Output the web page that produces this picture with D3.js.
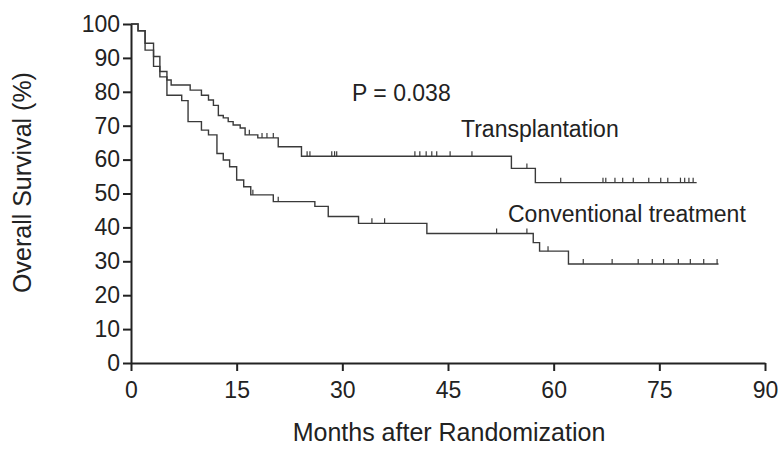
<!DOCTYPE html>
<html>
<head>
<meta charset="utf-8">
<script src="https://cdn.jsdelivr.net/npm/d3@7"></script>
<style>
  body { margin: 0; background: #fff; }
  text { font-family: "Liberation Sans", Arial, sans-serif; fill: #222; }
</style>
</head>
<body>
<div id="chart-area"></div>
<script>
// step points: [month, survival %] after each drop
var transplant = [[0,100],[1,98],[2,94.3],[3.2,87.5],[4.1,86],[5.1,83.5],[5.7,82],[8.4,80.5],[10,79],[11,77.6],[11.7,76],
  [12.4,73],[13.1,72.3],[13.8,71.2],[14.5,70.2],[15.5,69.3],[16.2,67.3],[18,66.4],[20.9,63.8],[24.2,61],[54,57.4],[57.4,53.2]];
var transplantEnd = 80.3;
var transplantCensor = [16.8,18.6,19.3,20.2,25,25.4,28.5,28.9,29.2,40.3,41,41.9,42.7,43.4,45.3,48.4,56.2,
  61,67,67.4,68.7,69.8,71.3,73.5,75.2,76.2,78,78.6,79.2,79.8];

var conventional = [[0,100],[1,98],[2,92.3],[3.2,90.4],[4.1,84.4],[5.1,79],[7.2,77.4],[8.1,71.2],[10,68.7],[11,67.3],
  [12.2,61.8],[13.1,59.9],[14,57.9],[15,54],[16,52],[17,49.6],[20.2,47.6],[26.1,46.2],[28,43.2],[32.3,41.2],
  [42,38.2],[57.1,35.5],[58,33],[62.1,29.2]];
var conventionalEnd = 83.4;
var conventionalCensor = [17.3,20.9,34.2,36,51.9,56.2,59.2,64.2,68.3,72,74,75.6,77.7,79.4,81.3,83.2];

var xTicks = [0,15,30,45,60,75,90];
var yTicks = [0,10,20,30,40,50,60,70,80,90,100];

var margin = { left:131, right:17, top:24, bottom:99 };
var width = 782 - margin.left - margin.right,
    height = 462 - margin.top - margin.bottom;

var svg = d3.select("#chart-area").append("svg")
    .attr("width", 782).attr("height", 462);
var g = svg.append("g")
    .attr("transform", "translate(" + margin.left + "," + margin.top + ")");

var x = d3.scaleLinear().domain([0, 90]).range([0, width]);
var y = d3.scaleLinear().domain([0, 100]).range([height, 0]);

var line = d3.line().x(d => x(d[0])).y(d => y(d[1])).curve(d3.curveStepAfter);

function survAt(data, t) {
  var s = 100;
  data.forEach(d => { if (d[0] <= t) s = d[1]; });
  return s;
}

function drawCurve(data, end, censor) {
  var pts = data.concat([[end, data[data.length-1][1]]]);
  g.append("path").datum(pts)
    .attr("d", line)
    .attr("fill", "none")
    .attr("stroke", "#3a3a3a")
    .attr("stroke-width", 1.4);
  g.selectAll(null).data(censor).enter().append("line")
    .attr("x1", d => x(d)).attr("x2", d => x(d))
    .attr("y1", d => y(survAt(data, d)))
    .attr("y2", d => y(survAt(data, d)) - 5)
    .attr("stroke", "#3a3a3a").attr("stroke-width", 1.2);
}

drawCurve(transplant, transplantEnd, transplantCensor);
drawCurve(conventional, conventionalEnd, conventionalCensor);

var xAxis = d3.axisBottom(x).tickValues(xTicks).tickSize(8).tickSizeOuter(0);
var yAxis = d3.axisLeft(y).tickValues(yTicks).tickSize(8).tickSizeOuter(0);

var gx = g.append("g").attr("transform", "translate(0," + height + ")").call(xAxis);
var gy = g.append("g").call(yAxis);

[gx, gy].forEach(a => {
  a.select(".domain").attr("stroke", "#222").attr("stroke-width", 2);
  a.selectAll(".tick line").attr("stroke", "#222").attr("stroke-width", 2);
  a.selectAll(".tick text").style("font-size", "23px").attr("fill", "#222");
});
gx.selectAll(".tick text").attr("dy", "1.05em");
gy.selectAll(".tick text").attr("dx", "0em");

g.append("text")
  .attr("transform", "translate(" + (-100) + "," + (height/2 - 11) + ") rotate(-90)")
  .attr("text-anchor", "middle")
  .style("font-size", "25px")
  .text("Overall Survival (%)");

g.append("text")
  .attr("x", width/2 + 1).attr("y", height + 78)
  .attr("text-anchor", "middle")
  .style("font-size", "25px")
  .text("Months after Randomization");

g.append("text").attr("x", 221).attr("y", 77)
  .style("font-size", "23px").text("P = 0.038");
g.append("text").attr("x", 330).attr("y", 113)
  .style("font-size", "23px").text("Transplantation");
g.append("text").attr("x", 377).attr("y", 198)
  .style("font-size", "23px").text("Conventional treatment");
</script>
</body>
</html>
